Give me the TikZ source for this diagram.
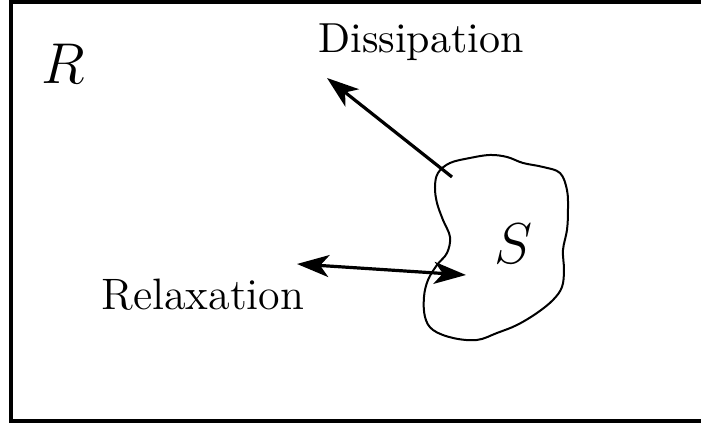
\documentclass[tikz,border=0pt]{standalone}
\usetikzlibrary{arrows.meta}
\begin{document}
\begin{tikzpicture}[x=0.25pt,y=-0.25pt,
  lbl/.style={inner sep=0pt,font=\fontsize{10.5}{12}\selectfont},
  sym/.style={inner sep=0pt,font=\fontsize{14}{16}\selectfont},
  arr/.style={line width=0.8pt,-{Stealth[length=8pt,width=5.5pt,inset=2.2pt]}},
  darr/.style={line width=0.8pt,{Stealth[length=8pt,width=5.5pt,inset=2.2pt]}-{Stealth[length=8pt,width=5.5pt,inset=2.2pt]}},
  blob/.style={line width=0.5pt}]
\useasboundingbox (0,0) rectangle (701,423);
\clip (0,0) rectangle (701,423);
\draw[line width=1pt] (701,2.5) -- (11,2.5) -- (11,421) -- (701,421);
\node[sym] (R) at (63,64) {$R$};
\node[sym] (S) at (514,244) {$S$};
\node[lbl,anchor=base] (diss) at (421,53) {Dissipation};
\node[lbl,anchor=base,font=\fontsize{11}{13}\selectfont] (relax) at (203,310) {Relaxation};
\draw[blob] plot[smooth cycle,tension=0.6] coordinates {
 (438,173) (450,163) (470,158) (490,155) (507,157) (523,163) (543,167)
 (560,173) (567,190) (568,210) (567,230) (563,250) (564,270) (562,287)
 (553,300) (537,313) (517,325) (497,333) (477,340) (453,338) (433,330)
 (425,317) (424,297) (428,280) (437,265) (447,253) (450,237) (443,220)
 (437,203) (435,187)};
\coordinate (dstart) at (452,177);
\coordinate (dtip) at (327,78);
\coordinate (rleft) at (297,264);
\coordinate (rright) at (466,275);
\draw[arr] (dstart) -- (dtip);
\draw[darr] (rleft) -- (rright);
\end{tikzpicture}
\end{document}
